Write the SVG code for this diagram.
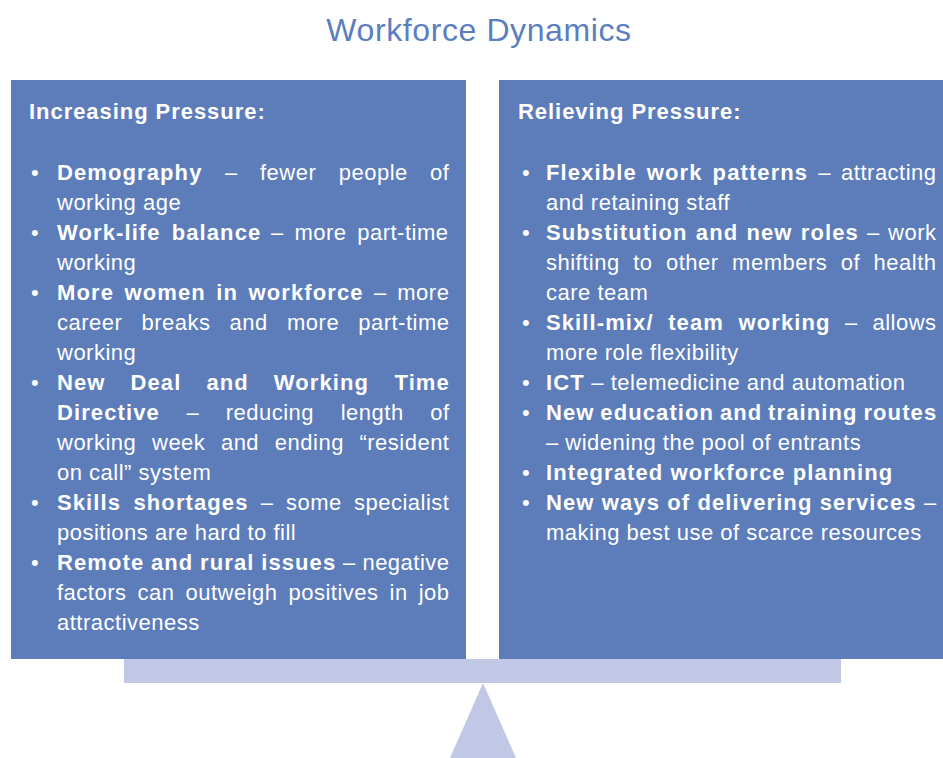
<svg xmlns="http://www.w3.org/2000/svg" width="943" height="758" viewBox="0 0 943 758">
  <style>
    .title { font-family: "Liberation Sans", Arial, sans-serif; font-size: 32px; fill: #5b7ec0; letter-spacing: 0.6px; }
    .panel { fill: #5d7cba; }
    .support { fill: #c1c8e6; }
    .t { font-family: "Liberation Sans", Arial, sans-serif; font-size: 22px; fill: #ffffff; letter-spacing: 0.5px; }
    .b { font-weight: bold; letter-spacing: 1.1px; }
    .h { font-family: "Liberation Sans", Arial, sans-serif; font-size: 22px; font-weight: bold; fill: #ffffff; letter-spacing: 0.95px; }
  </style>

  <rect width="943" height="758" fill="#ffffff"/>

  <text class="title" x="479" y="41" text-anchor="middle">Workforce Dynamics</text>

  <!-- left pan: pressures pushing the workforce down (justified lines set word by word) -->
  <g id="increasing-pressure">
    <rect class="panel" x="11" y="80" width="455" height="579"/>
    <text class="h" x="29" y="119">Increasing Pressure:</text>
    <g class="t">
      <text x="31" y="180">•</text>
      <text x="31" y="240">•</text>
      <text x="31" y="300">•</text>
      <text x="31" y="390">•</text>
      <text x="31" y="510">•</text>
      <text x="31" y="570">•</text>

      <text y="180"><tspan x="57" class="b">Demography</tspan><tspan x="224.9">–</tspan><tspan x="260">fewer</tspan><tspan x="338.7">people</tspan><tspan x="430.1">of</tspan></text>
      <text x="57" y="210">working age</text>
      <text y="240"><tspan x="57" class="b">Work-life</tspan><tspan x="171.7" class="b">balance</tspan><tspan x="271">–</tspan><tspan x="294.4">more</tspan><tspan x="357.2">part-time</tspan></text>
      <text x="57" y="270">working</text>
      <text y="300"><tspan x="57" class="b">More</tspan><tspan x="124.5" class="b">women</tspan><tspan x="216.3" class="b">in</tspan><tspan x="248.6" class="b">workforce</tspan><tspan x="374.1">–</tspan><tspan x="397.3">more</tspan></text>
      <text y="330"><tspan x="57">career</tspan><tspan x="141.5">breaks</tspan><tspan x="229.6">and</tspan><tspan x="287">more</tspan><tspan x="358.2">part-time</tspan></text>
      <text x="57" y="360">working</text>
      <text y="390" class="b"><tspan x="57">New</tspan><tspan x="130.5">Deal</tspan><tspan x="206.4">and</tspan><tspan x="273.8">Working</tspan><tspan x="394.5">Time</tspan></text>
      <text y="420"><tspan x="57" class="b">Directive</tspan><tspan x="186.4">–</tspan><tspan x="225.7">reducing</tspan><tspan x="340.7">length</tspan><tspan x="430.2">of</tspan></text>
      <text y="450"><tspan x="57">working</tspan><tspan x="152">week</tspan><tspan x="220.9">and</tspan><tspan x="274.8">ending</tspan><tspan x="359.4">“resident</tspan></text>
      <text x="57" y="480">on call” system</text>
      <text y="510"><tspan x="57" class="b">Skills</tspan><tspan x="133.5" class="b">shortages</tspan><tspan x="260.8">–</tspan><tspan x="285.9">some</tspan><tspan x="354">specialist</tspan></text>
      <text x="57" y="540">positions are hard to fill</text>
      <text y="570"><tspan x="57" class="b">Remote</tspan><tspan x="151" class="b">and</tspan><tspan x="200.1" class="b">rural</tspan><tspan x="261.2" class="b">issues</tspan><tspan x="343">–</tspan><tspan x="362.4">negative</tspan></text>
      <text y="600"><tspan x="57">factors</tspan><tspan x="137.5">can</tspan><tspan x="185.5">outweigh</tspan><tspan x="288.5">positives</tspan><tspan x="389.6">in</tspan><tspan x="418.7">job</tspan></text>
      <text x="57" y="630">attractiveness</text>
    </g>
  </g>

  <!-- right pan: measures that lift the pressure -->
  <g id="relieving-pressure">
    <rect class="panel" x="499" y="80" width="444" height="579"/>
    <text class="h" x="518" y="119">Relieving Pressure:</text>
    <g class="t">
      <text x="522" y="180">•</text>
      <text x="522" y="240">•</text>
      <text x="522" y="330">•</text>
      <text x="522" y="390">•</text>
      <text x="522" y="420">•</text>
      <text x="522" y="480">•</text>
      <text x="522" y="510">•</text>

      <text y="180"><tspan x="546" class="b">Flexible</tspan><tspan x="646.8" class="b">work</tspan><tspan x="712.6" class="b">patterns</tspan><tspan x="818.3">–</tspan><tspan x="841.1">attracting</tspan></text>
      <text x="546" y="210">and retaining staff</text>
      <text y="240"><tspan x="546" class="b">Substitution</tspan><tspan x="695.8" class="b">and</tspan><tspan x="746.4" class="b">new</tspan><tspan x="800.8" class="b">roles</tspan><tspan x="867.1">–</tspan><tspan x="888.1">work</tspan></text>
      <text y="270"><tspan x="546">shifting</tspan><tspan x="633.2">to</tspan><tspan x="666">other</tspan><tspan x="732.1">members</tspan><tspan x="840.8">of</tspan><tspan x="873.6">health</tspan></text>
      <text x="546" y="300">care team</text>
      <text y="330"><tspan x="546" class="b">Skill-mix/</tspan><tspan x="668.2" class="b">team</tspan><tspan x="738.5" class="b">working</tspan><tspan x="845.1">–</tspan><tspan x="872.4">allows</tspan></text>
      <text x="546" y="360">more role flexibility</text>
      <text x="546" y="390"><tspan class="b">ICT</tspan> – telemedicine and automation</text>
      <text y="420" class="b"><tspan x="546">New</tspan><tspan x="600.3">education</tspan><tspan x="719.9">and</tspan><tspan x="768.1">training</tspan><tspan x="863.4">routes</tspan></text>
      <text x="546" y="450">– widening the pool of entrants</text>
      <text x="546" y="480" class="b">Integrated workforce planning</text>
      <text y="510"><tspan x="546" class="b">New</tspan><tspan x="601.8" class="b">ways</tspan><tspan x="667.3" class="b">of</tspan><tspan x="697.5" class="b">delivering</tspan><tspan x="819.7" class="b">services</tspan><tspan x="923.9">–</tspan></text>
      <text x="546" y="540">making best use of scarce resources</text>
    </g>
  </g>

  <!-- balance beam and fulcrum -->
  <g id="beam">
    <rect class="support" x="124" y="659" width="717" height="24"/>
  </g>
  <g id="fulcrum">
    <polygon class="support" points="483,683 516,758 450,758"/>
  </g>
</svg>
